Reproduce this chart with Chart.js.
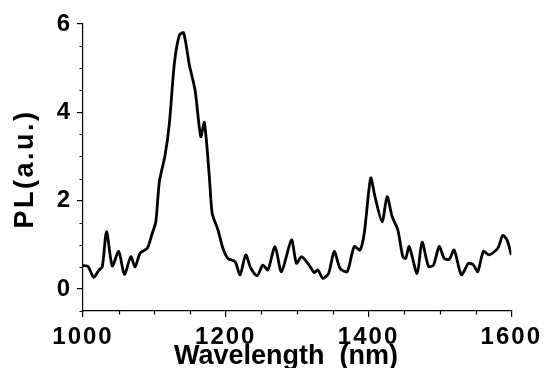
<!DOCTYPE html>
<html>
<head>
<meta charset="utf-8">
<script src="https://cdn.jsdelivr.net/npm/chart.js@4.4.0/dist/chart.umd.min.js"></script>
<style>
  html, body { margin: 0; padding: 0; background: #fff; }
  #wrap { width: 544px; height: 368px; }
</style>
</head>
<body>
<div id="wrap"><canvas id="myChart" width="544" height="368"></canvas></div>
<script>
// wavelength (nm) and PL intensity
let wavelength = [1000,1007,1015,1022,1027,1033,1041,1050,1058,1067,1073,1080,1090,1097,1102,1107,1115,1121,1128,1135,1141,1149,1157,1165,1170,1177,1181,1189,1196,1203,1213,1220,1228,1235,1244,1252,1259,1269,1278,1292,1299,1306,1315,1324,1329,1336,1344,1352,1360,1370,1380,1388,1394,1403,1409,1419,1426,1433,1441,1448,1452,1457,1468,1475,1484,1491,1499,1506,1513,1520,1530,1540,1547,1553,1561,1569,1581,1588,1594,1600]
let pl = [0.53,0.51,0.26,0.42,0.50,1.30,0.52,0.85,0.33,0.73,0.50,0.81,0.92,1.26,1.52,2.43,3.03,3.75,5.11,5.75,5.80,5.07,4.50,3.45,3.77,2.54,1.71,1.34,0.92,0.69,0.62,0.32,0.77,0.47,0.30,0.54,0.43,0.96,0.39,1.11,0.58,0.73,0.58,0.37,0.43,0.24,0.35,0.85,0.47,0.39,0.96,0.88,1.26,2.51,2.09,1.52,2.09,1.64,1.34,0.73,0.69,0.96,0.35,1.06,0.51,0.54,0.96,0.69,0.67,0.88,0.32,0.58,0.54,0.39,0.85,0.77,0.92,1.21,1.11,0.77]

let xTicks = [1000,1200,1400,1600]
let xMinor = [1050,1100,1150,1250,1300,1350,1450,1500,1550]
let yTicks = [0,2,4,6]
let yMinor = [-0.5,0.5,1,1.5,2.5,3,3.5,4.5,5,5.5]

let points = wavelength.map((w, i) => ({x: w, y: pl[i]}))

// minor ticks, axis titles, and a bit of spacing in the tick digits
const extras = {
  id: 'extras',
  beforeDraw(chart) {
    chart.ctx.letterSpacing = '2px'
  },
  afterDraw(chart) {
    const c = chart.ctx
    const xs = chart.scales.x, ys = chart.scales.y
    const area = chart.chartArea
    c.save()
    c.strokeStyle = '#000'
    c.lineWidth = 1.2
    c.beginPath()
    xMinor.forEach(v => {
      let p = Math.round(xs.getPixelForValue(v)) + 0.5
      c.moveTo(p, area.bottom); c.lineTo(p, area.bottom + 3.5)
    })
    yMinor.forEach(v => {
      let p = Math.round(ys.getPixelForValue(v)) + 0.5
      c.moveTo(area.left, p); c.lineTo(area.left - 3.5, p)
    })
    c.stroke()

    c.fillStyle = '#000'
    c.font = 'bold 27px "Liberation Sans", Arial, sans-serif'
    c.textAlign = 'center'
    c.textBaseline = 'alphabetic'
    c.letterSpacing = '0px'
    c.fillText('Wavelength  (nm)', 286, 364)

    c.translate(33, 169)
    c.rotate(-Math.PI / 2)
    c.letterSpacing = '2.5px'
    c.fillText('PL(a.u.)', 0, 0)
    c.restore()
  }
}

const ctx = document.getElementById('myChart')

const myChart = new Chart(ctx, {
  type: 'line',
  data: {
    datasets: [{
      data: points,
      borderColor: '#000',
      borderWidth: 2.8,
      pointRadius: 0,
      tension: 0.25,
      fill: false
    }]
  },
  options: {
    responsive: false,
    animation: false,
    layout: { padding: { top: 24, right: 30, left: 0, bottom: 0 } },
    plugins: { legend: { display: false }, tooltip: { enabled: false } },
    scales: {
      x: {
        type: 'linear',
        min: 1000,
        max: 1600,
        afterBuildTicks: s => { s.ticks = xTicks.map(v => ({value: v})) },
        afterFit: s => { s.height = 57 },
        grid: { drawOnChartArea: false, tickLength: 6, color: '#000', lineWidth: 1.2 },
        border: { color: '#000', width: 1.2 },
        ticks: {
          color: '#000',
          padding: 6,
          maxRotation: 0,
          callback: v => String(v),
          font: { family: '"Liberation Sans", Arial, sans-serif', size: 24, weight: 'bold' }
        }
      },
      y: {
        min: -0.5,
        max: 6,
        afterBuildTicks: s => { s.ticks = yTicks.map(v => ({value: v})) },
        afterFit: s => { s.width = 83 },
        grid: { drawOnChartArea: false, tickLength: 6, color: '#000', lineWidth: 1.2 },
        border: { color: '#000', width: 1.2 },
        ticks: {
          color: '#000',
          padding: 5,
          callback: v => String(v),
          font: { family: '"Liberation Sans", Arial, sans-serif', size: 24, weight: 'bold' }
        }
      }
    }
  },
  plugins: [extras]
})
</script>
</body>
</html>
